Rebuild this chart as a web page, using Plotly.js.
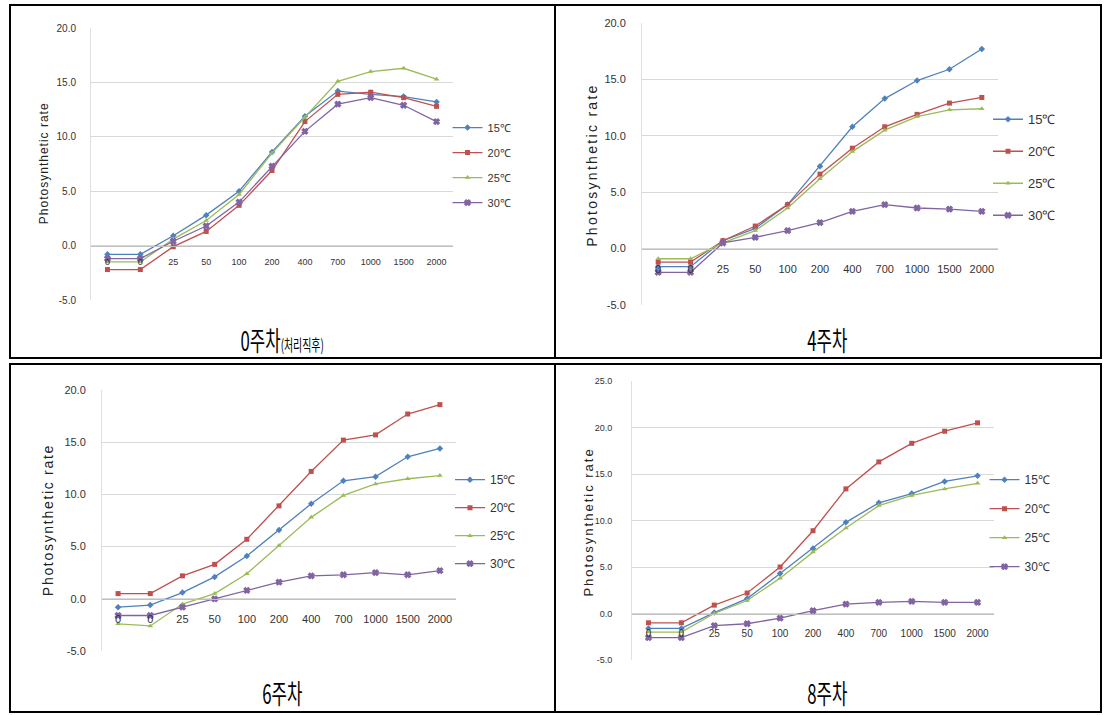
<!DOCTYPE html>
<html><head><meta charset="utf-8">
<script src="https://cdn.plot.ly/plotly-3.0.1.min.js"></script>
<style>
html,body{margin:0;padding:0;background:#fff;width:1116px;height:715px;overflow:hidden;position:relative;}
.chart{position:absolute;}
.tbl{position:absolute;border:2px solid #000;box-sizing:border-box;}
.vline{position:absolute;width:0;border-left:2px solid #000;}
.cap{position:absolute;width:545px;text-align:center;font-family:'Noto Sans CJK KR','Noto Sans CJK SC',sans-serif;color:#000;line-height:1;white-space:nowrap;}
.cap .inner{display:inline-block;transform:scaleX(0.62);transform-origin:center;font-size:27px;}
.cap .note{font-size:16px;}
#c1 .annotation-text{letter-spacing:1px;font-weight:bold;}
#c2 .annotation-text{letter-spacing:2.3px;font-weight:bold;}
#c3 .annotation-text{letter-spacing:1.7px;font-weight:bold;}
#c4 .annotation-text{letter-spacing:2px;font-weight:bold;}
</style></head><body>
<div class="tbl" style="left:9px;top:4px;width:1093px;height:355px;"></div>
<div class="vline" style="left:554px;top:4px;height:355px;"></div>
<div class="tbl" style="left:9px;top:363px;width:1093px;height:350px;"></div>
<div class="vline" style="left:554px;top:363px;height:350px;"></div>
<div id="c1" class="chart"></div>
<div id="c2" class="chart"></div>
<div id="c3" class="chart"></div>
<div id="c4" class="chart"></div>
<div id="cap1" class="cap" style="left:10px;top:326px;"></div>
<div id="cap2" class="cap" style="left:555px;top:326px;"></div>
<div id="cap3" class="cap" style="left:10px;top:679px;"></div>
<div id="cap4" class="cap" style="left:555px;top:679px;"></div>
<script>
// ---- data ----
const parLevels = ["0","0","25","50","100","200","400","700","1000","1500","2000"];
const seriesNames = ["15\u2103","20\u2103","25\u2103","30\u2103"];
const yTitle = "Photosynthetic rate";

const week0_15 = [-0.8,-0.8,0.9,2.8,5.0,8.6,11.9,14.2,13.9,13.7,13.2];
const week0_20 = [-2.2,-2.2,-0.1,1.3,3.7,6.9,11.4,13.9,14.1,13.6,12.8];
const week0_25 = [-1.5,-1.5,0.6,2.3,4.7,8.5,11.8,15.1,16.0,16.3,15.3];
const week0_30 = [-1.2,-1.2,0.4,1.8,4.0,7.3,10.5,13.0,13.6,12.9,11.4];

const week4_15 = [-1.6,-1.6,0.7,1.8,3.9,7.3,10.8,13.3,14.9,15.9,17.7];
const week4_20 = [-1.2,-1.2,0.7,2.0,3.9,6.6,8.9,10.8,11.9,12.9,13.4];
const week4_25 = [-0.9,-0.9,0.5,1.6,3.6,6.2,8.6,10.5,11.7,12.3,12.4];
const week4_30 = [-2.1,-2.1,0.5,1.0,1.6,2.3,3.3,3.9,3.6,3.5,3.3];

const week6_15 = [-0.8,-0.6,0.6,2.1,4.1,6.6,9.1,11.3,11.7,13.6,14.4];
const week6_20 = [0.5,0.5,2.2,3.3,5.7,8.9,12.2,15.2,15.7,17.7,18.6];
const week6_25 = [-2.4,-2.6,-0.5,0.5,2.4,5.1,7.8,9.9,11.0,11.5,11.8];
const week6_30 = [-1.6,-1.6,-0.8,0.0,0.8,1.6,2.2,2.3,2.5,2.3,2.7];

const week8_15 = [-1.6,-1.6,0.1,1.6,4.3,7.0,9.8,11.9,12.9,14.2,14.8];
const week8_20 = [-1.0,-1.0,0.9,2.2,5.0,8.9,13.4,16.3,18.3,19.6,20.5];
const week8_25 = [-2.0,-2.0,0.0,1.4,3.8,6.6,9.2,11.6,12.7,13.4,14.0];
const week8_30 = [-2.6,-2.6,-1.3,-1.1,-0.5,0.3,1.0,1.2,1.3,1.2,1.2];

const yTicksA = [-5,0,5,10,15,20];
const yTicksB = [-5,0,5,10,15,20,25];

const captionWeeks = ["0주차","4주차","6주차","8주차"];
const captionNote = "(처리직후)";

// ---- style ----
const colors = ['#4F81BD','#C0504D','#9BBB59','#8064A2'];
const symbols = ['diamond','square','triangle-up','x'];
const FONT = 'Liberation Sans, Arial, sans-serif';

function build(id, box, plot, series, yTicks, st){
  const div = document.getElementById(id);
  div.style.left = box.l+'px'; div.style.top = box.t+'px';
  const pw = plot.r-plot.l, ph = plot.b-plot.t;
  const m = {l:plot.l-box.l, r:box.l+box.w-plot.r, t:plot.t-box.t, b:box.t+box.h-plot.b, pad:0};
  const xIdx = parLevels.map((_, i) => i);
  const ymin = yTicks[0], ymax = yTicks[yTicks.length-1];
  const traces = series.map((ys,k)=>({
    x:xIdx, y:ys, type:'scatter', mode:'lines+markers', name:seriesNames[k], legendgroup:'g'+k,
    line:{color:colors[k], width:1.3}, marker:{symbol:symbols[k], size:st.ms, color:colors[k], line:{width:k===3?1.2:0,color:colors[k]}}
  }));
  const layout = {
    width:box.w, height:box.h, margin:m,
    paper_bgcolor:'rgba(0,0,0,0)', plot_bgcolor:'rgba(0,0,0,0)',
    font:{family:FONT, color:'#333'},
    showlegend:true,
    legend:{x:(st.legX-40-plot.l)/pw, xanchor:'left', y:(plot.b-(st.legY-st.legFs*0.9-4))/ph, yanchor:'top',
      traceorder:'grouped', tracegroupgap:Math.max(0, st.legGap-(Math.max(st.legFs*1.3,16)+3)),
      font:{family:FONT, size:st.legFs, color:'#333'}, bgcolor:'rgba(0,0,0,0)', borderwidth:0},
    xaxis:{range:[-0.5,10.5], tickmode:'array', tickvals:xIdx, ticktext:parLevels,
      anchor:'free', position:(0-ymin)/(ymax-ymin), showline:true, linecolor:'#BFBFBF', linewidth:1,
      showgrid:false, zeroline:false, ticks:'', ticklabelstandoff:st.xStand,
      tickfont:{family:FONT, size:st.xFs, color:'#333'}, fixedrange:true},
    yaxis:{range:[ymin,ymax], tickmode:'array', tickvals:yTicks, ticktext:yTicks.map(v=>v.toFixed(1)),
      showgrid:true, gridcolor:'#D9D9D9', gridwidth:1, zeroline:false, showline:true, linecolor:'#E0E0E0',
      ticks:'', ticklabelstandoff:st.yStand, tickfont:{family:FONT, size:st.yFs, color:'#333'}, fixedrange:true},
    annotations:[{text:yTitle, xref:'paper', yref:'paper', x:(st.titleX-plot.l)/pw, y:(plot.b-st.titleY)/ph,
      textangle:-90, showarrow:false, xanchor:'center', yanchor:'middle',
      font:{family:FONT, size:st.titleFs, color:'#222'}}]
  };
  Plotly.newPlot(div, traces, layout, {displayModeBar:false, staticPlot:true});
}

build('c1', {l:11,t:6,w:543,h:318}, {l:90.5,r:453.5,t:28,b:300},
  [week0_15,week0_20,week0_25,week0_30], yTicksA,
  {ms:5, legX:488, legY:127, legGap:25, legFs:11, xFs:9, yFs:10, xStand:8, yStand:12, titleX:43, titleY:163, titleFs:12});
build('c2', {l:557,t:6,w:542,h:318}, {l:642,r:998,t:23,b:305},
  [week4_15,week4_20,week4_25,week4_30], yTicksA,
  {ms:5, legX:1028, legY:120, legGap:32, legFs:13, xFs:11, yFs:11, xStand:10, yStand:13, titleX:592, titleY:165, titleFs:14});
build('c3', {l:11,t:365,w:543,h:308}, {l:102,r:456,t:390,b:651},
  [week6_15,week6_20,week6_25,week6_30], yTicksA,
  {ms:5, legX:490, legY:480, legGap:28, legFs:12, xFs:11, yFs:11, xStand:10, yStand:13, titleX:48, titleY:520, titleFs:14});
build('c4', {l:557,t:365,w:542,h:308}, {l:631.5,r:994.5,t:381,b:660},
  [week8_15,week8_20,week8_25,week8_30], yTicksB,
  {ms:5, legX:1025, legY:480, legGap:29, legFs:12, xFs:10, yFs:9, xStand:10, yStand:17, titleX:587, titleY:522, titleFs:13});

// captions
function cap(id, week, note){
  const el = document.getElementById(id);
  const inner = document.createElement('span'); inner.className='inner';
  inner.textContent = week;
  if(note){ const n=document.createElement('span'); n.className='note'; n.textContent=note; inner.appendChild(n); }
  el.appendChild(inner);
}
cap('cap1', captionWeeks[0], captionNote);
cap('cap2', captionWeeks[1]);
cap('cap3', captionWeeks[2]);
cap('cap4', captionWeeks[3]);
</script>
</body></html>
